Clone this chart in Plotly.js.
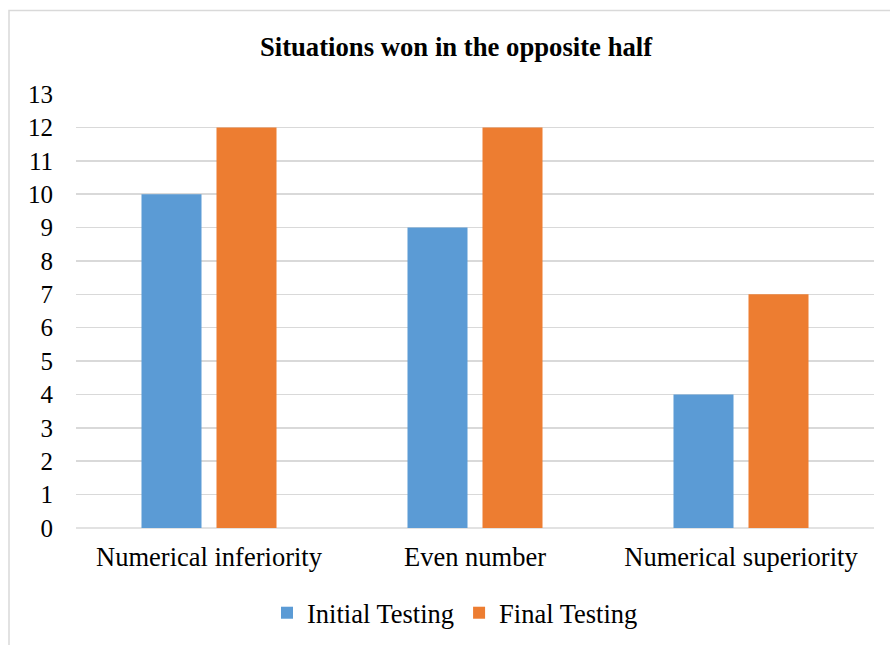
<!DOCTYPE html>
<html>
<head>
<meta charset="utf-8">
<script src="https://cdn.plot.ly/plotly-3.0.1.min.js"></script>
<style>html,body{margin:0;padding:0;background:#fff;}#chart{width:890px;height:645px;}</style>
</head>
<body>
<div id="chart"></div>
<script>
var categories = ["Numerical inferiority", "Even number", "Numerical superiority"];
var seriesNames = ["Initial Testing", "Final Testing"];
var initialTesting = [10, 9, 4];
var finalTesting = [12, 12, 7];
var yTicks = [0,1,2,3,4,5,6,7,8,9,10,11,12,13];

var fontFam = "'Liberation Serif', 'Times New Roman', serif";
var traces = [
  {type:'bar', name:seriesNames[0], x:categories, y:initialTesting, marker:{color:'#5B9BD5'}, hoverinfo:'x+y'},
  {type:'bar', name:seriesNames[1], x:categories, y:finalTesting, marker:{color:'#ED7D31'}, hoverinfo:'x+y'}
];
var T = 94, B = 117, H = 645 - T - B;
var layout = {
  width:890, height:645,
  margin:{l:76, r:16, t:T, b:B},
  paper_bgcolor:'#ffffff', plot_bgcolor:'#ffffff',
  font:{family:fontFam, color:'#000000', size:25},
  title:{text:'<b>Situations won in the opposite half</b>', font:{family:fontFam, size:26.7, color:'#000'}, x:456/890, xanchor:'center', xref:'container', y:1-47/645, yanchor:'middle', yref:'container'},
  barmode:'group', bargap:0.436, bargroupgap:0.2,
  xaxis:{showgrid:false, zeroline:false, showline:false, ticks:'', tickfont:{size:26.5}, ticklabelstandoff:10},
  yaxis:{range:[0,13], tickvals:yTicks, ticktext:yTicks.map(String), showgrid:true, gridcolor:'#d9d9d9', gridwidth:1.5, zeroline:false, showline:false, ticks:'', tickfont:{size:25}, ticklabelstandoff:22},
  showlegend:true,
  legend:{orientation:'h', xref:'container', yref:'container', x:455/890, xanchor:'center', y:1-613/645, yanchor:'middle', font:{size:26.5}, itemwidth:30, traceorder:'normal'},
  shapes:[
    {type:'line', xref:'paper', yref:'paper', x0:0, x1:1, y0:0, y1:0, line:{color:'#d9d9d9', width:1.5}, layer:'below'},
    {type:'path', xref:'paper', yref:'paper', path:'M '+((9-76)/798)+' '+((528-650)/H)+' L '+((9-76)/798)+' '+((528-10.5)/H)+' L '+((900-76)/798)+' '+((528-10.5)/H), line:{color:'#d9d9d9', width:1.5}}
  ]
};
Plotly.newPlot('chart', traces, layout, {displayModeBar:false, staticPlot:true});
</script>
</body>
</html>
